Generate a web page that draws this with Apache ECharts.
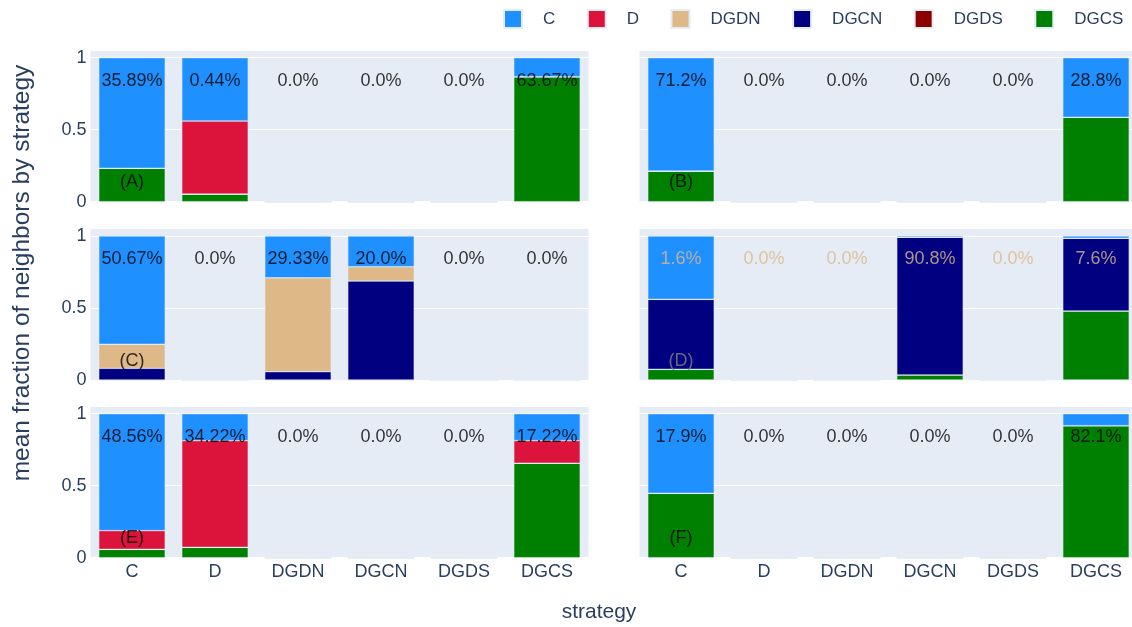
<!DOCTYPE html>
<html>
<head>
<meta charset="utf-8">
<script src="https://cdn.jsdelivr.net/npm/echarts@6/dist/echarts.min.js"></script>
<style>
html,body{margin:0;padding:0;background:#fff;overflow:hidden;width:1132px;height:627px;}
#chart{width:1140px;height:627px;}
</style>
</head>
<body>
<div id="chart"></div>
<script>
// ---- data ----
const categories = ['C', 'D', 'DGDN', 'DGCN', 'DGDS', 'DGCS'];
const seriesNames = ['C', 'D', 'DGDN', 'DGCN', 'DGDS', 'DGCS'];
const yTicks = [0, 0.5, 1];

// Panel A
const A_C    = [0.768, 0.44, 0, 0, 0, 0.132];
const A_D    = [0, 0.507, 0, 0, 0, 0];
const A_DGDN = [0, 0, 0, 0, 0, 0];
const A_DGCN = [0, 0, 0, 0, 0, 0];
const A_DGDS = [0, 0, 0, 0, 0, 0];
const A_DGCS = [0.232, 0.053, 0, 0, 0, 0.868];
const A_text = ['35.89%', '0.44%', '0.0%', '0.0%', '0.0%', '63.67%'];

// Panel B
const B_C    = [0.787, 0, 0, 0, 0, 0.414];
const B_D    = [0, 0, 0, 0, 0, 0];
const B_DGDN = [0, 0, 0, 0, 0, 0];
const B_DGCN = [0, 0, 0, 0, 0, 0];
const B_DGDS = [0, 0, 0, 0, 0, 0];
const B_DGCS = [0.213, 0, 0, 0, 0, 0.586];
const B_text = ['71.2%', '0.0%', '0.0%', '0.0%', '0.0%', '28.8%'];

// Panel C
const C_C    = [0.752, 0, 0.29, 0.213, 0, 0];
const C_D    = [0, 0, 0, 0, 0, 0];
const C_DGDN = [0.167, 0, 0.652, 0.0995, 0, 0];
const C_DGCN = [0.081, 0, 0.058, 0.6875, 0, 0];
const C_DGDS = [0, 0, 0, 0, 0, 0];
const C_DGCS = [0, 0, 0, 0, 0, 0];
const C_text = ['50.67%', '0.0%', '29.33%', '20.0%', '0.0%', '0.0%'];

// Panel D
const D_C    = [0.44, 0, 0, 0.009, 0, 0.016];
const D_D    = [0, 0, 0, 0, 0, 0];
const D_DGDN = [0, 0, 0, 0, 0, 0];
const D_DGCN = [0.486, 0, 0, 0.956, 0, 0.505];
const D_DGDS = [0, 0, 0, 0, 0, 0];
const D_DGCS = [0.074, 0, 0, 0.035, 0, 0.479];
const D_text = ['1.6%', '0.0%', '0.0%', '90.8%', '0.0%', '7.6%'];

// Panel E
const E_C    = [0.812, 0.187, 0, 0, 0, 0.187];
const E_D    = [0.13, 0.741, 0, 0, 0, 0.157];
const E_DGDN = [0, 0, 0, 0, 0, 0];
const E_DGCN = [0, 0, 0, 0, 0, 0];
const E_DGDS = [0, 0, 0, 0, 0, 0];
const E_DGCS = [0.058, 0.072, 0, 0, 0, 0.656];
const E_text = ['48.56%', '34.22%', '0.0%', '0.0%', '0.0%', '17.22%'];

// Panel F
const F_C    = [0.553, 0, 0, 0, 0, 0.083];
const F_D    = [0, 0, 0, 0, 0, 0];
const F_DGDN = [0, 0, 0, 0, 0, 0];
const F_DGCN = [0, 0, 0, 0, 0, 0];
const F_DGDS = [0, 0, 0, 0, 0, 0];
const F_DGCS = [0.447, 0, 0, 0, 0, 0.917];
const F_text = ['17.9%', '0.0%', '0.0%', '0.0%', '0.0%', '82.1%'];

const panelLabels = ['(A)', '(B)', '(C)', '(D)', '(E)', '(F)'];

// ---- assembly ----
const panels = [
  {C: A_C, D: A_D, DGDN: A_DGDN, DGCN: A_DGCN, DGDS: A_DGDS, DGCS: A_DGCS, text: A_text},
  {C: B_C, D: B_D, DGDN: B_DGDN, DGCN: B_DGCN, DGDS: B_DGDS, DGCS: B_DGCS, text: B_text},
  {C: C_C, D: C_D, DGDN: C_DGDN, DGCN: C_DGCN, DGDS: C_DGDS, DGCS: C_DGCS, text: C_text},
  {C: D_C, D: D_D, DGDN: D_DGDN, DGCN: D_DGCN, DGDS: D_DGDS, DGCS: D_DGCS, text: D_text},
  {C: E_C, D: E_D, DGDN: E_DGDN, DGCN: E_DGCN, DGDS: E_DGDS, DGCS: E_DGCS, text: E_text},
  {C: F_C, D: F_D, DGDN: F_DGDN, DGCN: F_DGCN, DGDS: F_DGDS, DGCS: F_DGCS, text: F_text}
];

const colors = {C: '#1E90FF', D: '#DC143C', DGDN: '#DEB887', DGCN: '#000080', DGDS: '#8B0000', DGCS: '#008000'};
const stackOrder = ['DGCS', 'DGDS', 'DGCN', 'DGDN', 'D', 'C']; // bottom -> top

const FONT = '"Liberation Sans", Arial, Helvetica, sans-serif';
const AXIS_COLOR = '#2a3f5f';
const COL_X = [90.5, 639.5];
const ROW_Y = [50.1, 228.4, 406.1];
const PW = 498, PH = 151.6;
const YMAX = 1 / 0.95;
const PCT_Y = 0.84, TAG_Y = 0.135;

const grids = [], xAxes = [], yAxes = [], series = [];
panels.forEach((p, k) => {
  const row = Math.floor(k / 2), col = k % 2;
  grids.push({left: COL_X[col], top: ROW_Y[row], width: PW, height: PH,
    show: true, backgroundColor: '#E5ECF6', borderWidth: 0, containLabel: false});
  xAxes.push({type: 'category', gridIndex: k, data: categories,
    axisLine: {show: false}, axisTick: {show: false},
    axisLabel: {show: row === 2, fontSize: 18, fontFamily: FONT, color: AXIS_COLOR, margin: 5},
    splitLine: {show: false}});
  yAxes.push({type: 'value', gridIndex: k, min: 0, max: YMAX, interval: 0.5,
    axisLine: {show: false}, axisTick: {show: false},
    splitLine: {show: true, lineStyle: {color: '#ffffff', width: 1}},
    axisLabel: {show: col === 0, fontSize: 18, fontFamily: FONT, color: AXIS_COLOR, margin: 4,
      showMaxLabel: false,
      formatter: v => (yTicks.some(t => Math.abs(t - v) < 1e-9) ? String(v) : '')}});
  stackOrder.forEach(name => {
    series.push({type: 'bar', name: name, xAxisIndex: k, yAxisIndex: k, stack: 'p' + k,
      data: p[name], barCategoryGap: '20%',
      itemStyle: {color: colors[name], borderColor: '#E5ECF6', borderWidth: 0.5},
      emphasis: {disabled: true}});
  });
  const isD = k === 3;
  series.push({type: 'scatter', name: 'pct' + k, xAxisIndex: k, yAxisIndex: k,
    symbolSize: 1, itemStyle: {color: 'rgba(0,0,0,0)'}, silent: true, z: 10,
    data: categories.map((c, i) => ({value: [c, PCT_Y], label: {formatter: p.text[i]}})),
    label: {show: true, position: 'inside', fontSize: 18, fontFamily: FONT,
      color: isD ? '#DEB887' : '#000000'}});
  series.push({type: 'scatter', name: 'tag' + k, xAxisIndex: k, yAxisIndex: k,
    symbolSize: 1, itemStyle: {color: 'rgba(0,0,0,0)'}, silent: true, z: 10,
    data: [{value: [categories[0], TAG_Y]}],
    label: {show: true, position: 'inside', fontSize: 18, fontFamily: FONT,
      formatter: panelLabels[k], color: isD ? '#808080' : '#000000'}});
});

const option = {
  animation: false,
  backgroundColor: '#ffffff',
  legend: {
    data: seriesNames, left: 503, top: 9, padding: 0,
    itemWidth: 18, itemHeight: 18, itemGap: 31.5, icon: 'rect',
    selectedMode: false,
    textStyle: {fontSize: 17, fontFamily: FONT, color: AXIS_COLOR, padding: [0, 0, 0, 16]}
  },
  grid: grids, xAxis: xAxes, yAxis: yAxes, series: series,
  graphic: [
    {type: 'text', x: 599, y: 612, silent: true,
      style: {text: 'strategy', fill: AXIS_COLOR, font: '21px ' + FONT,
        align: 'center', verticalAlign: 'middle', textAlign: 'center', textVerticalAlign: 'middle'}},
    {type: 'text', x: 22, y: 273, rotation: Math.PI / 2, silent: true,
      style: {text: 'mean fraction of neighbors by strategy', fill: AXIS_COLOR, font: '24.5px ' + FONT,
        align: 'center', verticalAlign: 'middle', textAlign: 'center', textVerticalAlign: 'middle'}}
  ]
};

const chart = echarts.init(document.getElementById('chart'));
chart.setOption(option);
</script>
</body>
</html>
